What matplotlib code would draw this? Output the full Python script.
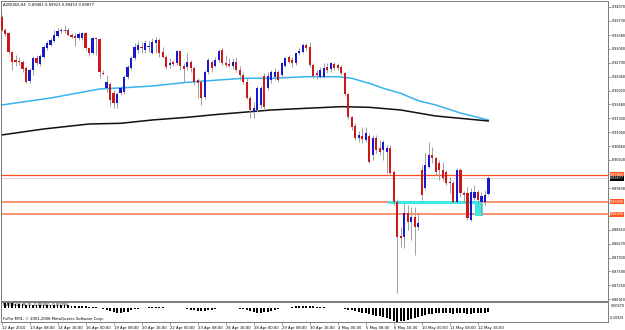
#!/usr/bin/env python3
"""AUDUSD H4 candlestick chart with MAs, levels and MACD panel (MT4 style)."""

import matplotlib

matplotlib.use("Agg")
import matplotlib.pyplot as plt
import numpy as np

# ---- data -------------------------------------------------------------------
opens = [
    0.9382, 0.9351, 0.9343, 0.9297, 0.9277, 0.9275, 0.9272, 0.9257, 0.9226, 0.9253,
    0.9282, 0.9267, 0.9284, 0.9306, 0.9314, 0.9324, 0.9336, 0.9348, 0.9351, 0.9351,
    0.9338, 0.9336, 0.9331, 0.9331, 0.9343, 0.9306, 0.9294, 0.9331, 0.9328, 0.9245,
    0.9208, 0.9218, 0.9196, 0.9172, 0.9196, 0.9199, 0.9235, 0.9257, 0.9282, 0.9302,
    0.9309, 0.9302, 0.9309, 0.9294, 0.9319, 0.9326, 0.9297, 0.9284, 0.9265, 0.9272,
    0.9270, 0.9299, 0.9262, 0.9260, 0.9272, 0.9257, 0.9228, 0.9223, 0.9186, 0.9248,
    0.9272, 0.9262, 0.9277, 0.9302, 0.9270, 0.9267, 0.9262, 0.9272, 0.9253, 0.9240,
    0.9223, 0.9184, 0.9150, 0.9155, 0.9167, 0.9238, 0.9208, 0.9228, 0.9235, 0.9248,
    0.9240, 0.9262, 0.9284, 0.9277, 0.9270, 0.9294, 0.9297, 0.9314, 0.9309, 0.9265,
    0.9245, 0.9235, 0.9235, 0.9260, 0.9255, 0.9267, 0.9265, 0.9260, 0.9245, 0.9194,
    0.9137, 0.9115, 0.9086, 0.9091, 0.9081, 0.9091, 0.9044, 0.9086, 0.9061, 0.9057,
    0.9052, 0.9061, 0.9003, 0.8929, 0.8846, 0.8843, 0.8902, 0.8880, 0.8892, 0.8868,
    0.9008, 0.8963, 0.9015, 0.9044, 0.9037, 0.9025, 0.9008, 0.9003, 0.8978, 0.8976,
    0.8929, 0.9008, 0.8951, 0.8951, 0.8885, 0.8939, 0.8954, 0.8929, 0.8929, 0.89481,
]
highs = [
    0.9387, 0.9355, 0.9346, 0.9299, 0.9289, 0.9284, 0.9277, 0.9262, 0.9257, 0.9287,
    0.9289, 0.9292, 0.9314, 0.9324, 0.9331, 0.9351, 0.9355, 0.9355, 0.9363, 0.9355,
    0.9343, 0.9343, 0.9346, 0.9346, 0.9346, 0.9309, 0.9333, 0.9333, 0.9331, 0.9253,
    0.9240, 0.9223, 0.9204, 0.9199, 0.9213, 0.9240, 0.9265, 0.9287, 0.9319, 0.9324,
    0.9321, 0.9326, 0.9324, 0.9331, 0.9333, 0.9331, 0.9309, 0.9289, 0.9282, 0.9277,
    0.9302, 0.9302, 0.9270, 0.9294, 0.9277, 0.9262, 0.9233, 0.9228, 0.9253, 0.9282,
    0.9277, 0.9284, 0.9304, 0.9306, 0.9289, 0.9282, 0.9282, 0.9284, 0.9262, 0.9248,
    0.9233, 0.9189, 0.9174, 0.9213, 0.9213, 0.9245, 0.9248, 0.9253, 0.9257, 0.9253,
    0.9272, 0.9284, 0.9289, 0.9284, 0.9294, 0.9306, 0.9319, 0.9319, 0.9321, 0.9270,
    0.9253, 0.9260, 0.9270, 0.9270, 0.9272, 0.9272, 0.9270, 0.9265, 0.9248, 0.9196,
    0.9140, 0.9123, 0.9103, 0.9113, 0.9113, 0.9098, 0.9093, 0.9093, 0.9081, 0.9081,
    0.9069, 0.9069, 0.9008, 0.8936, 0.8868, 0.8927, 0.8922, 0.8917, 0.8917, 0.8902,
    0.9020, 0.9049, 0.9076, 0.9064, 0.9039, 0.9032, 0.9027, 0.9008, 0.8990, 0.8981,
    0.9012, 0.9012, 0.8956, 0.8966, 0.8963, 0.8971, 0.8959, 0.8954, 0.8959, 0.89923,
]
lows = [
    0.9348, 0.9336, 0.9292, 0.9253, 0.9262, 0.9265, 0.9248, 0.9221, 0.9221, 0.9240,
    0.9265, 0.9262, 0.9282, 0.9302, 0.9311, 0.9321, 0.9333, 0.9343, 0.9343, 0.9336,
    0.9331, 0.9311, 0.9326, 0.9326, 0.9302, 0.9287, 0.9292, 0.9289, 0.9233, 0.9240,
    0.9199, 0.9164, 0.9159, 0.9159, 0.9191, 0.9194, 0.9230, 0.9253, 0.9277, 0.9294,
    0.9294, 0.9294, 0.9297, 0.9292, 0.9294, 0.9284, 0.9282, 0.9255, 0.9257, 0.9262,
    0.9265, 0.9253, 0.9223, 0.9253, 0.9248, 0.9216, 0.9184, 0.9167, 0.9181, 0.9243,
    0.9248, 0.9260, 0.9272, 0.9265, 0.9260, 0.9260, 0.9255, 0.9248, 0.9228, 0.9218,
    0.9181, 0.9135, 0.9135, 0.9150, 0.9159, 0.9155, 0.9204, 0.9221, 0.9228, 0.9223,
    0.9235, 0.9260, 0.9270, 0.9260, 0.9265, 0.9289, 0.9294, 0.9302, 0.9260, 0.9233,
    0.9230, 0.9233, 0.9233, 0.9245, 0.9248, 0.9253, 0.9253, 0.9240, 0.9189, 0.9132,
    0.9106, 0.9081, 0.9076, 0.9074, 0.9076, 0.9025, 0.9032, 0.9049, 0.9044, 0.9032,
    0.9000, 0.8995, 0.8922, 0.8706, 0.8819, 0.8816, 0.8861, 0.8836, 0.8799, 0.8861,
    0.8934, 0.8959, 0.9012, 0.9025, 0.8995, 0.8983, 0.8981, 0.8971, 0.8951, 0.8927,
    0.8927, 0.8941, 0.8929, 0.8885, 0.8883, 0.8934, 0.8927, 0.8897, 0.8922, 0.89453,
]
closes = [
    0.9351, 0.9341, 0.9297, 0.9272, 0.9272, 0.9272, 0.9255, 0.9223, 0.9253, 0.9282,
    0.9270, 0.9287, 0.9309, 0.9319, 0.9326, 0.9338, 0.9348, 0.9351, 0.9351, 0.9338,
    0.9333, 0.9331, 0.9341, 0.9343, 0.9306, 0.9294, 0.9331, 0.9328, 0.9248, 0.9243,
    0.9223, 0.9179, 0.9172, 0.9194, 0.9208, 0.9235, 0.9260, 0.9282, 0.9309, 0.9314,
    0.9306, 0.9319, 0.9311, 0.9321, 0.9326, 0.9294, 0.9284, 0.9260, 0.9270, 0.9267,
    0.9299, 0.9262, 0.9255, 0.9272, 0.9257, 0.9223, 0.9221, 0.9184, 0.9248, 0.9277,
    0.9257, 0.9277, 0.9299, 0.9270, 0.9265, 0.9262, 0.9272, 0.9253, 0.9240, 0.9223,
    0.9184, 0.9155, 0.9159, 0.9208, 0.9208, 0.9162, 0.9238, 0.9248, 0.9248, 0.9228,
    0.9270, 0.9282, 0.9272, 0.9270, 0.9294, 0.9299, 0.9314, 0.9306, 0.9265, 0.9238,
    0.9240, 0.9253, 0.9257, 0.9253, 0.9270, 0.9257, 0.9257, 0.9245, 0.9194, 0.9137,
    0.9113, 0.9086, 0.9093, 0.9083, 0.9098, 0.9027, 0.9086, 0.9057, 0.9052, 0.9076,
    0.9061, 0.9000, 0.8929, 0.8843, 0.8841, 0.8902, 0.8880, 0.8892, 0.8868, 0.8878,
    0.8946, 0.9020, 0.9044, 0.9037, 0.9003, 0.9008, 0.8988, 0.8976, 0.8976, 0.8929,
    0.9008, 0.8951, 0.8946, 0.8890, 0.8954, 0.8954, 0.8934, 0.8944, 0.8946, 0.89877,
]

# moving averages, sampled at a few bars
fast_ma_bars = [0, 14, 28, 35, 43, 53, 62, 69, 77, 87, 96, 100, 105, 109, 114, 119, 124, 131, 139]
fast_ma_vals = [0.91668, 0.91839, 0.92060, 0.92091, 0.92133, 0.92224, 0.92280, 0.92322,
                0.92322, 0.92361, 0.92361, 0.92322, 0.92199, 0.92077, 0.91954, 0.91773,
                0.91668, 0.91472, 0.91300]
slow_ma_bars = [0, 12, 25, 34, 43, 53, 62, 69, 77, 87, 97, 105, 114, 124, 139]
slow_ma_vals = [0.90933, 0.91080, 0.91202, 0.91219, 0.91300, 0.91366, 0.91440, 0.91489,
                0.91545, 0.91587, 0.91626, 0.91611, 0.91545, 0.91398, 0.91276]

macd_hist = [
    0.0030, 0.0030, 0.0029, 0.0028, 0.0026, 0.0024, 0.0022, 0.0019, 0.0017, 0.0016,
    0.0016, 0.0016, 0.0017, 0.0018, 0.0019, 0.0020, 0.0020, 0.0019, 0.0018, 0.0017,
    0.0014, 0.0012, 0.0011, 0.0010, 0.0009, 0.0005, 0.0003, 0.0002, 0.0001, -0.0008,
    -0.0015, -0.0022, -0.0028, -0.0032, -0.0032, -0.0030, -0.0025, -0.0018, -0.0011, -0.0006,
    -0.0003, -0.0002, 0.0002, 0.0003, 0.0003, 0.0002, 0.0002, 0.0001, -0.0001, -0.0002,
    -0.0002, -0.0003, -0.0005, -0.0010, -0.0014, -0.0018, -0.0021, -0.0022, -0.0020, -0.0017,
    -0.0013, -0.0009, -0.0005, -0.0003, -0.0002, -0.0002, -0.0003, -0.0004, -0.0006, -0.0009,
    -0.0015, -0.0022, -0.0028, -0.0032, -0.0033, -0.0031, -0.0027, -0.0022, -0.0016, -0.0010,
    -0.0005, -0.0002, 0.0001, 0.0005, 0.0008, 0.0010, 0.0012, 0.0012, 0.0011, 0.0008,
    0.0005, 0.0003, 0.0002, 0.0001, 0.0001, 0.0000, -0.0001, -0.0002, -0.0007, -0.0012,
    -0.0018, -0.0023, -0.0028, -0.0033, -0.0037, -0.0041, -0.0046, -0.0052, -0.0057, -0.0061,
    -0.0068, -0.0076, -0.0086, -0.0093, -0.0088, -0.0084, -0.0079, -0.0074, -0.0069, -0.0063,
    -0.0056, -0.0050, -0.0044, -0.0040, -0.0037, -0.0035, -0.0034, -0.0034, -0.0035, -0.0038,
    -0.0036, -0.0035, -0.0037, -0.0040, -0.0038, -0.0036, -0.0035, -0.0034, -0.0032, -0.0030,
]

price_ticks = [0.94070, 0.93730, 0.93380, 0.93040, 0.92700, 0.92360, 0.92020, 0.91680,
               0.91340, 0.91000, 0.90660, 0.90320, 0.89980, 0.89630, 0.89290, 0.88950,
               0.88610, 0.88270, 0.87930, 0.87590, 0.87250, 0.86910]
hidden_ticks = [0.89980, 0.89290, 0.88950]   # covered by the level tags
time_labels = ["12 Apr 2010", "13 Apr 08:00", "14 Apr 16:00", "16 Apr 00:00",
               "19 Apr 08:00", "20 Apr 16:00", "22 Apr 00:00", "23 Apr 08:00",
               "26 Apr 16:00", "28 Apr 00:00", "29 Apr 08:00", "30 Apr 16:00",
               "4 May 00:00", "5 May 08:00", "6 May 16:00", "10 May 00:00",
               "11 May 08:00", "12 May 16:00"]
level_lines = [0.8996, 0.8930, 0.8899]
support_level = 0.8930
support_span = (110.4, 137.3)
box_span = (135.2, 137.5)
box_prices = (0.88948, 0.89316)
macd_label = "MACD(12,26,9) -0.00300 -0.00298"
macd_scale = ("0.00370", "-0.00929")

# ---- figure -------------------------------------------------------------------
W, H = 625, 330
fig = plt.figure(figsize=(W / 100, H / 100), dpi=100)


def px_axes(x0, y0, x1, y1):
    return fig.add_axes([x0 / W, 1 - y1 / H, (x1 - x0) / W, (y1 - y0) / H])


ax = px_axes(1, 1, 608, 301)
axm = px_axes(1, 302, 608, 322)

o = np.array(opens)
h = np.array(highs)
l = np.array(lows)
c = np.array(closes)
idx = np.arange(len(o))

up_col = "#1818cc"
dn_col = "#cc1818"
wick_col = "#a0a0a0"
spine_col = "#7a7a7a"
fs = 2.7
fs_axis = 2.4

# levels behind candles
for lv in level_lines[1:]:
    ax.axhline(lv, color="#f88a64", lw=1.3, zorder=1)
ax.axhline(level_lines[0], color="#ff4c18", lw=0.9, zorder=1)
ax.axhline(closes[-1], color="#a8a8a8", lw=0.6, ls=(0, (1.5, 1.5)), zorder=1)
ax.hlines(support_level, *support_span, color="#3ee6e6", lw=2.2, zorder=1.5)
ax.fill_between(box_span, box_prices[0], box_prices[1], color="#3ee6e6", lw=0, zorder=1.5)

# moving averages
ax.plot(fast_ma_bars, fast_ma_vals, color="#33b4ee", lw=1.1, zorder=2)
ax.plot(slow_ma_bars, slow_ma_vals, color="#101010", lw=1.1, zorder=2)

# candles
ax.vlines(idx, l, h, color=wick_col, lw=0.7, zorder=3)
colors = np.where(c >= o, up_col, dn_col)
body_h = np.abs(c - o)
ax.bar(idx, body_h, bottom=np.minimum(o, c), width=0.7, color=colors, lw=0, zorder=4)
doji = body_h < 0.00005
ax.hlines(o[doji], idx[doji] - 0.35, idx[doji] + 0.35, color="#606060", lw=0.7, zorder=4)

ax.set_xlim(-0.2, 173.2)
ax.set_ylim(0.868655, 0.942155)
ax.yaxis.tick_right()
ax.set_yticks(price_ticks)
ax.set_yticklabels(["" if p in hidden_ticks else f"{p:.5f}" for p in price_ticks])
ax.tick_params(axis="y", labelsize=fs_axis, length=2, width=0.5, color=spine_col, pad=1.0)
ax.tick_params(axis="x", length=0, labelbottom=False)
for sp in ax.spines.values():
    sp.set_color(spine_col)
    sp.set_linewidth(0.7)

ax.text(0.004, 0.993, "AUDUSD,H4  0.89481 0.89923 0.89453 0.89877",
        transform=ax.transAxes, fontsize=fs, va="top", ha="left")

# price tags on the right axis
tr = ax.get_yaxis_transform()
for lv in level_lines:
    ax.text(1.0035, lv, f"{lv:.5f}", transform=tr, fontsize=fs_axis, color="white",
            va="center", ha="left", clip_on=False, zorder=10,
            bbox=dict(boxstyle="square,pad=0.15", fc="#ff5a1e", ec="none"))
ax.text(1.0035, closes[-1], f"{closes[-1]:.5f}", transform=tr, fontsize=fs_axis,
        color="white", va="center", ha="left", clip_on=False, zorder=10,
        bbox=dict(boxstyle="square,pad=0.15", fc="black", ec="none"))

# MACD panel
axm.bar(idx, macd_hist, width=0.45, color="black", lw=0)
axm.set_xlim(ax.get_xlim())
axm.set_ylim(-0.00929, 0.0037)
axm.set_yticks([])
axm.text(1.004, 0.80, macd_scale[0], transform=axm.transAxes, fontsize=fs_axis,
         va="center", ha="left")
axm.text(1.003, 0.22, macd_scale[1], transform=axm.transAxes, fontsize=2.2,
         va="center", ha="left")
axm.set_xticks(np.arange(0, len(time_labels) * 8, 8))
axm.set_xticklabels(time_labels, ha="left")
axm.tick_params(axis="x", labelsize=fs, length=2, width=0.5, color=spine_col, pad=1.2)
for sp in axm.spines.values():
    sp.set_color(spine_col)
    sp.set_linewidth(0.7)
axm.text(0.004, 0.97, macd_label, transform=axm.transAxes, fontsize=fs, va="top")
axm.text(0.004, 0.06, "FxPro MT4, \u00a9 2001-2008 MetaQuotes Software Corp.",
         transform=axm.transAxes, fontsize=fs, va="bottom")

fig.savefig("out.png", dpi=100, facecolor="white")
